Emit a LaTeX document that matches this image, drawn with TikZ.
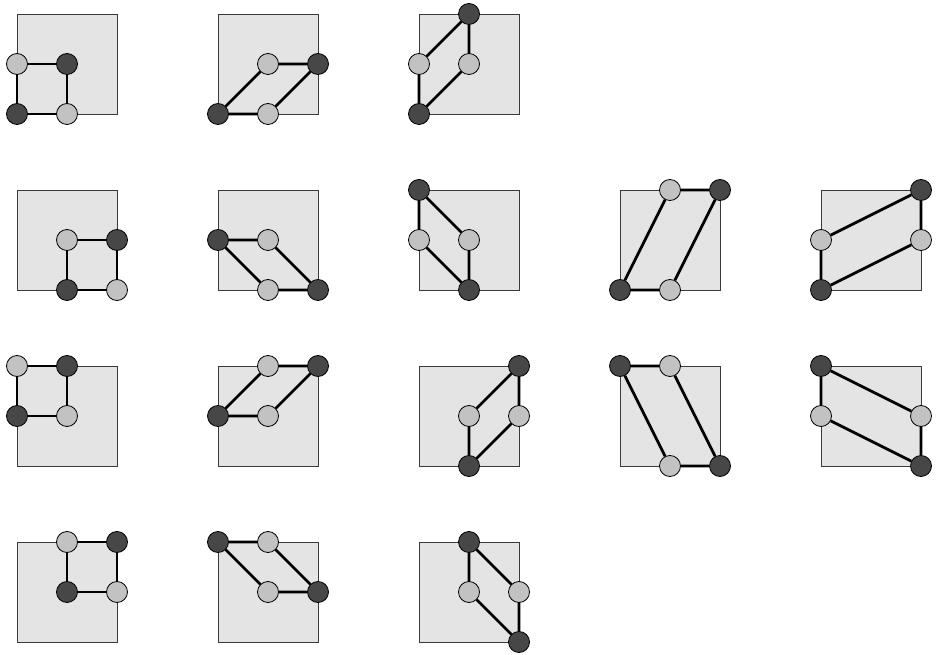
\documentclass[tikz,border=0pt]{standalone}
\usepackage{tikz}
\definecolor{sqfill}{HTML}{E4E4E4}
\definecolor{sqline}{HTML}{3A3A3A}
\definecolor{dkc}{HTML}{474747}
\definecolor{ltc}{HTML}{C2C2C2}
\tikzset{
  sq/.style={fill=sqfill,draw=sqline,line width=0.8pt},
  dk/.style={circle,draw=black,fill=dkc,minimum size=21pt,inner sep=0pt,line width=0.8pt},
  lt/.style={circle,draw=black,fill=ltc,minimum size=21pt,inner sep=0pt,line width=0.8pt},
  edge/.style={draw=black,line width=2.7pt}
}
\newcommand\cellpg[6]{%
  \begin{scope}[shift={(#1pt,#2pt)},x=50pt,y=50pt]
    \filldraw[sq] (0,0) rectangle (2,2);
    \node[dk] (a) at #3 {};
    \node[lt] (b) at #4 {};
    \node[dk] (c) at #5 {};
    \node[lt] (d) at #6 {};
    \draw[edge] (a) -- (b) -- (c) -- (d) -- (a);
  \end{scope}}
\begin{document}
\begin{tikzpicture}[x=1pt,y=1pt]
\useasboundingbox (0,0) rectangle (937,654);
% row 1
\cellpg{17}{540}{(0,0)}{(1,0)}{(1,1)}{(0,1)}
\cellpg{218}{540}{(0,0)}{(1,0)}{(2,1)}{(1,1)}
\cellpg{419}{540}{(0,0)}{(1,1)}{(1,2)}{(0,1)}
% row 2
\cellpg{17}{364}{(1,0)}{(2,0)}{(2,1)}{(1,1)}
\cellpg{218}{364}{(0,1)}{(1,1)}{(2,0)}{(1,0)}
\cellpg{419}{364}{(0,2)}{(1,1)}{(1,0)}{(0,1)}
\cellpg{620}{364}{(0,0)}{(1,2)}{(2,2)}{(1,0)}
\cellpg{821}{364}{(0,0)}{(0,1)}{(2,2)}{(2,1)}
% row 3
\cellpg{17}{188}{(0,1)}{(1,1)}{(1,2)}{(0,2)}
\cellpg{218}{188}{(0,1)}{(1,1)}{(2,2)}{(1,2)}
\cellpg{419}{188}{(1,0)}{(1,1)}{(2,2)}{(2,1)}
\cellpg{620}{188}{(0,2)}{(1,2)}{(2,0)}{(1,0)}
\cellpg{821}{188}{(0,2)}{(2,1)}{(2,0)}{(0,1)}
% row 4
\cellpg{17}{12}{(1,1)}{(2,1)}{(2,2)}{(1,2)}
\cellpg{218}{12}{(0,2)}{(1,2)}{(2,1)}{(1,1)}
\cellpg{419}{12}{(1,2)}{(2,1)}{(2,0)}{(1,1)}
\end{tikzpicture}
\end{document}
